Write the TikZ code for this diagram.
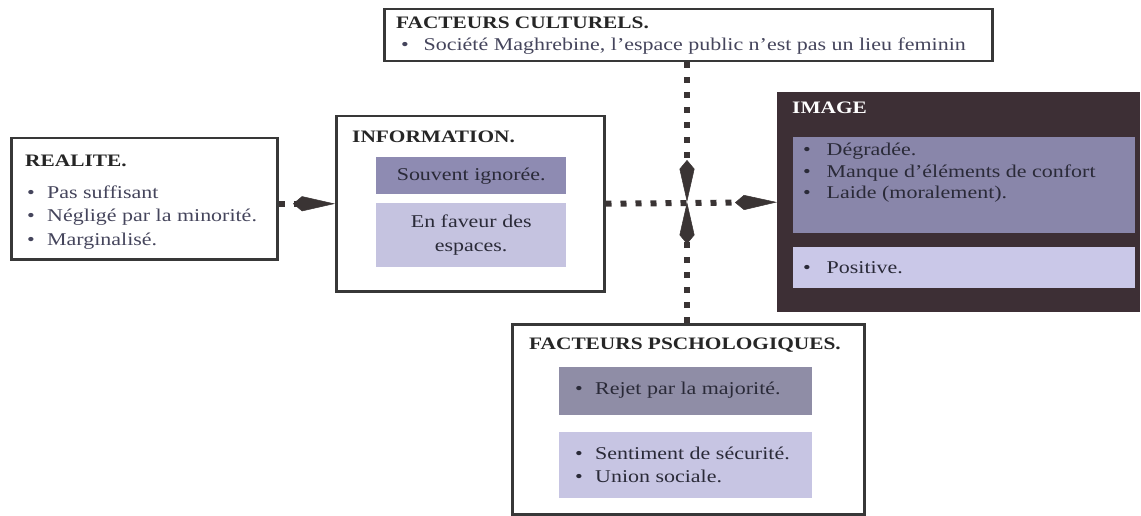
\documentclass[tikz,border=0pt]{standalone}
\usepackage{fontspec}
\setmainfont{Liberation Serif}[FakeStretch=1.22]
\usetikzlibrary{arrows.meta}
\definecolor{framec}{HTML}{383838}
\definecolor{arrowc}{HTML}{3a3434}
\definecolor{imgfill}{HTML}{3d2f35}
\definecolor{imgina}{HTML}{8986aa}
\definecolor{imginb}{HTML}{cac8e8}
\definecolor{infoina}{HTML}{8e8bb2}
\definecolor{infoinb}{HTML}{c5c3e0}
\definecolor{psyina}{HTML}{8f8da6}
\definecolor{psyinb}{HTML}{c7c5e3}
\definecolor{bodyc}{HTML}{45455c}
\definecolor{hdrc}{HTML}{262626}
\definecolor{darktxt}{HTML}{2a2a38}
\newcommand\bul[1][20pt]{\makebox[#1][l]{\textbullet}}
\tikzset{
  box/.style={draw=framec, line width=2.5pt, fill=white, inner sep=0pt, anchor=north west},
  shade/.style={draw=none, inner sep=0pt, anchor=north west},
  hdr/.style={anchor=base west, inner sep=0pt, text=hdrc, font=\bfseries\fontsize{17.5}{20}\selectfont},
  txt/.style={anchor=base west, inner sep=0pt, text=bodyc, font=\fontsize{18}{21}\selectfont},
  dtxt/.style={anchor=base west, inner sep=0pt, text=darktxt, font=\fontsize{18}{21}\selectfont},
  flow/.style={draw=arrowc, line width=6pt, dash pattern=on 6pt off 9pt},
  tip/.style={-{Kite[length=42pt,width=15pt,inset=9pt,line width=0.5pt]}}
}
\begin{document}
\begin{tikzpicture}[x=1pt,y=-1pt]
\useasboundingbox (0,0) rectangle (1141,516);

% REALITE
\node[box, minimum width=266, minimum height=121] (real) at (10,137) {};
\node[hdr] (realh) at (25,167) {REALITE.};
\node[txt] (real1) at (27,198) {\bul Pas suffisant};
\node[txt] (real2) at (27,222) {\bul Négligé par la minorité.};
\node[txt] (real3) at (27,245) {\bul Marginalisé.};

% INFORMATION
\node[box, minimum width=268, minimum height=175] (info) at (335,115) {};
\node[hdr] (infoh) at (352,143) {INFORMATION.};
\node[shade, fill=infoina, minimum width=190, minimum height=37, text=darktxt, font=\fontsize{18}{21}\selectfont] (ign) at (376,157) {Souvent ignorée.};
\node[shade, fill=infoinb, minimum width=190, minimum height=64, text=darktxt, align=center, font=\fontsize{18}{24}\selectfont] (fav) at (376,203) {En faveur des\\espaces.};

% FACTEURS CULTURELS
\node[box, minimum width=608, minimum height=52] (cult) at (383,8) {};
\node[hdr] (culth) at (396,29) {FACTEURS CULTURELS.};
\node[txt] (cult1) at (401,51) {\bul[17pt] Société Maghrebine, l’espace public n’est pas un lieu feminin};

% IMAGE
\node[shade, fill=imgfill, minimum width=363, minimum height=220] (img) at (777,92) {};
\node[anchor=base west, inner sep=0pt, text=white, font=\bfseries\fontsize{17.5}{20}\selectfont] (imgh) at (792,114) {IMAGE};
\node[shade, fill=imgina, minimum width=342, minimum height=96] (imga) at (793,137) {};
\node[shade, fill=imginb, minimum width=342, minimum height=41] (imgb) at (793,247) {};
\node[dtxt] (img1) at (803,156) {\bul[18pt] Dégradée.};
\node[dtxt] (img2) at (803,178) {\bul[18pt] Manque d’éléments de confort};
\node[dtxt] (img3) at (803,199) {\bul[18pt] Laide (moralement).};
\node[dtxt] (img4) at (803,273) {\bul[18pt] Positive.};

% FACTEURS PSCHOLOGIQUES
\node[box, minimum width=352, minimum height=190] (psy) at (511,323) {};
\node[hdr] (psyh) at (529,349) {FACTEURS PSCHOLOGIQUES.};
\node[shade, fill=psyina, minimum width=253, minimum height=48] (psya) at (559,367) {};
\node[shade, fill=psyinb, minimum width=253, minimum height=66] (psyb) at (559,432) {};
\node[dtxt] (psy1) at (575,394) {\bul Rejet par la majorité.};
\node[dtxt] (psy2) at (575,459) {\bul Sentiment de sécurité.};
\node[dtxt] (psy3) at (575,482) {\bul Union sociale.};

% connectors
\coordinate (cross) at (687,202);
\draw[flow, tip] (real.east |- info.west) -- (info.west);
\draw[flow, tip] (info.east) -- (img.west);
\draw[flow, tip] (cross |- cult.south) -- (cross);
\draw[flow, tip] (cross |- psy.north) -- (cross);
\end{tikzpicture}
\end{document}
